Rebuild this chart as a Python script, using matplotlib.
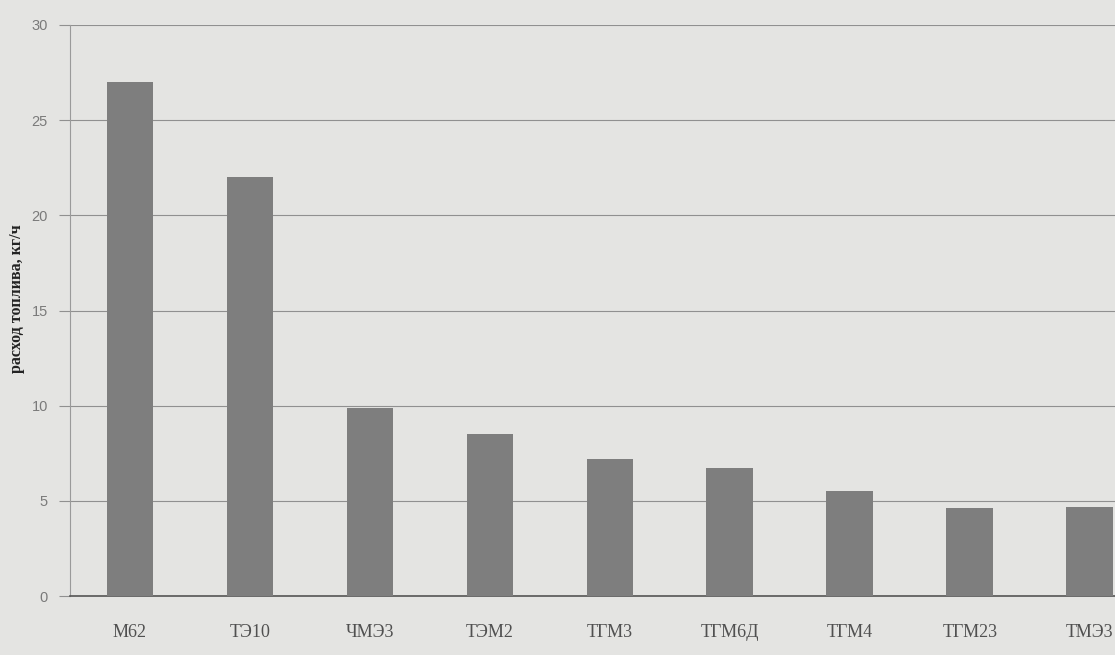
import matplotlib.pyplot as plt

# данные (расход топлива, кг/ч)
locos = ["М62", "ТЭ10", "ЧМЭ3", "ТЭМ2", "ТГМ3", "ТГМ6Д", "ТГМ4", "ТГМ23", "ТМЭ3"]
fuel = [27.0, 22.0, 9.9, 8.5, 7.2, 6.7, 5.5, 4.6, 4.7]
yticks = [0, 5, 10, 15, 20, 25, 30]

paper = "#e4e4e2"

fig = plt.figure(figsize=(11.15, 6.55), dpi=100, facecolor=paper)
ax = fig.add_axes([70 / 1115, (655 - 596) / 655, (1115 - 70) / 1115, 571 / 655])
ax.set_facecolor(paper)

x = list(range(len(locos)))
ax.bar(x, fuel, width=0.39, color="#7e7e7e", zorder=3)

ax.set_xlim(-0.5, 8.21)
ax.set_ylim(0, 30)
ax.set_yticks(yticks)
ax.set_yticklabels([str(t) for t in yticks], fontsize=10.5, color="#7a7a7a",
                   family="Liberation Sans")
ax.yaxis.grid(True, color="#909090", linewidth=0.8, zorder=1)
ax.tick_params(axis="y", length=8, width=0.8, color="#909090", pad=8)

ax.set_xticks(x)
ax.set_xticklabels(locos, fontsize=13, color="#505050", family="Liberation Serif")
ax.tick_params(axis="x", length=0, pad=20)

ax.set_ylabel("расход топлива, кг/ч", fontsize=11.5, fontweight="bold",
              family="Liberation Serif", color="#222222", labelpad=8)
ax.yaxis.set_label_coords(-45 / 1045, 0.52)

for s in ["top", "right"]:
    ax.spines[s].set_visible(False)
ax.spines["left"].set_color("#9a9a9a")
ax.spines["bottom"].set_color("#555555")
ax.spines["bottom"].set_linewidth(1.2)

fig.savefig("out.png", dpi=100, facecolor=paper)
